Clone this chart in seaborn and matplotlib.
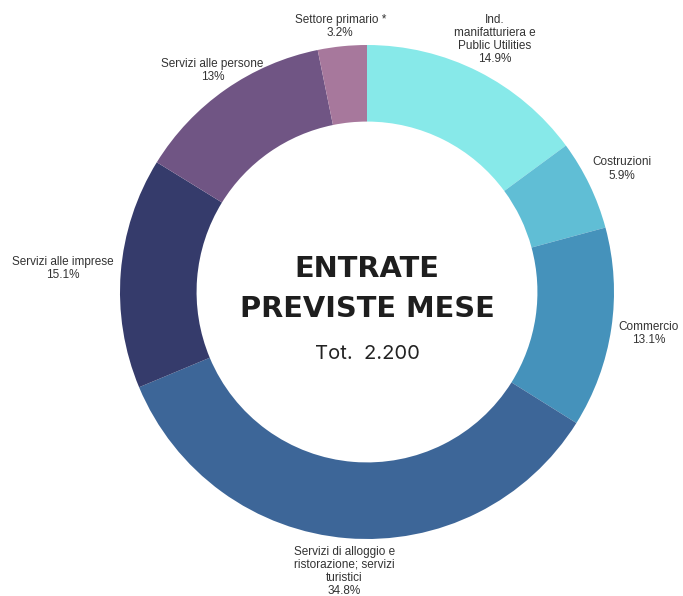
import numpy as np
import seaborn as sns
import matplotlib.pyplot as plt

# Dati del grafico
settori = ['Ind.\nmanifatturiera e\nPublic Utilities', 'Costruzioni', 'Commercio',
           'Servizi di alloggio e\nristorazione; servizi\nturistici',
           'Servizi alle imprese', 'Servizi alle persone', 'Settore primario *']
quote = [14.9, 5.9, 13.1, 34.8, 15.1, 13.0, 3.2]
etichette_pct = ['14.9%', '5.9%', '13.1%', '34.8%', '15.1%', '13%', '3.2%']
colori = ['#87e9e9', '#60bed5', '#4592bb', '#3d6698', '#353b6b', '#705584', '#a7789c']
totale = '2.200'

sns.set_theme(style='white')
plt.rcParams['font.family'] = ['Liberation Sans', 'DejaVu Sans']

fig = plt.figure(figsize=(6.83, 5.96), dpi=100)
ax = fig.add_axes([0, 0, 1, 1])

cx, cy, r = 367, 304, 247
wedges, _ = ax.pie(quote, colors=colori, startangle=90, counterclock=False,
                   center=(cx, cy), radius=r,
                   wedgeprops=dict(width=r * 0.31, linewidth=0))
ax.set_xlim(0, 683)
ax.set_ylim(0, 596)
ax.set_aspect('equal')
ax.axis('off')

# Etichette esterne: il riquadro del testo tocca un cerchio appena fuori dall'anello
renderer = fig.canvas.get_renderer()
for w, nome, pct in zip(wedges, settori, etichette_pct):
    ang = np.deg2rad((w.theta1 + w.theta2) / 2)
    c, s = np.cos(ang), np.sin(ang)
    t = ax.text(cx, cy, nome + '\n' + pct, ha='center', va='center',
                multialignment='center', fontsize=8.5, color='#333333',
                linespacing=1.12)
    bb = t.get_window_extent(renderer)
    half = min(bb.width / 2 / max(abs(c), 1e-6), bb.height / 2 / max(abs(s), 1e-6))
    d = 1.03 * r + half
    t.set_position((cx + d * c, cy + d * s))

# Testo centrale
ax.text(cx, cy + 23, 'ENTRATE', ha='center', va='center', fontsize=20.8,
        fontweight='bold', color='#1e1e1e', family=['DejaVu Sans'])
ax.text(cx, cy - 17, 'PREVISTE MESE', ha='center', va='center', fontsize=20.8,
        fontweight='bold', color='#1e1e1e', family=['DejaVu Sans'])
ax.text(cx, cy - 62, 'Tot.  ' + totale, ha='center', va='center', fontsize=14.5,
        color='#222222', family=['Inter', 'DejaVu Sans'])

fig.savefig('out.png', dpi=100)
